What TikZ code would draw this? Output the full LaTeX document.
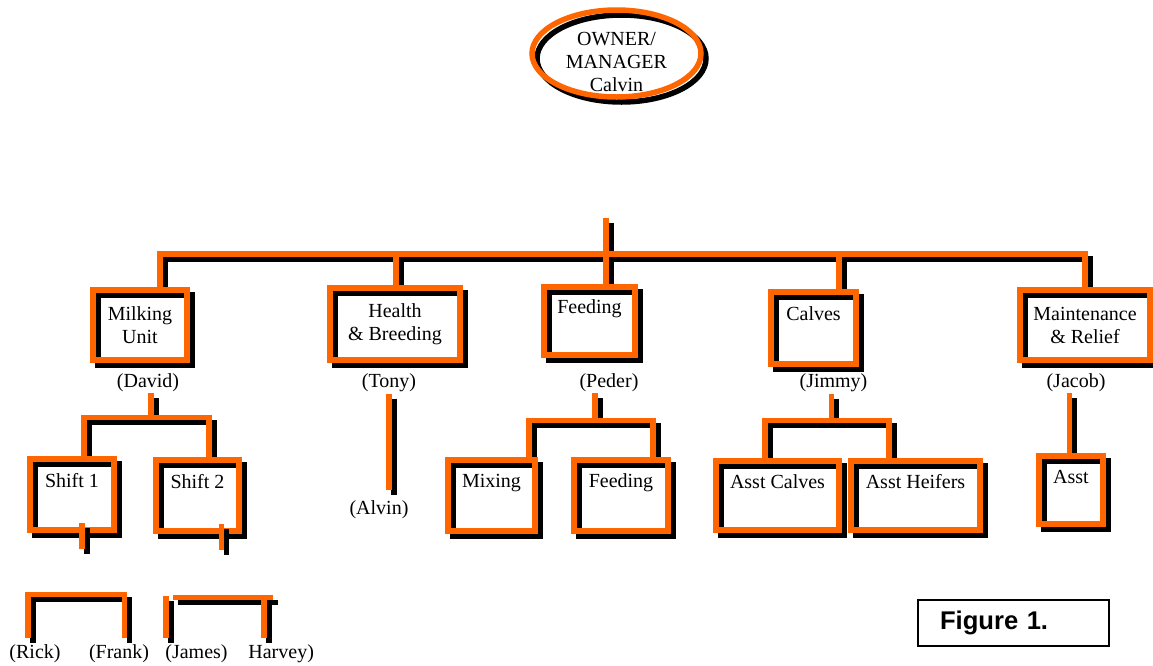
\documentclass[tikz,border=0pt]{standalone}
\usepackage{fontspec}
\setmainfont{Liberation Serif}
\newfontfamily\figfont{Liberation Sans}
\usetikzlibrary{shapes.geometric,backgrounds}
\definecolor{rim}{HTML}{FF6600}

\begin{document}
\begin{tikzpicture}[x=0.5pt, y=-0.5pt, font=\fontsize{10}{11.5}\selectfont,
    backdrop/.style = {preaction={draw=black, line width=2.75pt, transform canvas={shift={(2.5pt,-2.5pt)}}}},
    dept/.style = {draw=rim, line width=2.75pt, inner sep=0pt, backdrop},
    unit/.style = {dept, text height=13.5pt, text depth=#1},
    link/.style = {draw=rim, line width=2.75pt, backdrop},
    who/.style = {inner sep=.5pt},
    crew/.style = {inner sep=3.5pt}]
    \useasboundingbox (0,0) rectangle (1153,665);

    \node[dept, ellipse, minimum width=84.5pt, minimum height=43.5pt] (owner) at (616.5,53.5)
        {\raisebox{-7.75pt}[0pt][0pt]{\begin{tabular}{@{}c@{}}OWNER/\\MANAGER\\Calvin\end{tabular}}};

    \node[dept, align=center, minimum width=47pt, minimum height=35pt] (milk) at (140,325) {Milking\\Unit};
    \node[dept, align=center, minimum width=65pt, minimum height=36pt] (health) at (395,324) {Health\\\& Breeding};
    \node[unit=21pt, text height=13pt, minimum width=45.5pt] (feed) at (589.5,321) {Feeding};
    \node[unit=22pt, text height=14pt, minimum width=42.5pt] (calves) at (813.5,328) {Calves};
    \node[dept, align=center, minimum width=65pt, minimum height=35pt] (maint) at (1085,325) {Maintenance\\\& Relief};

    \node[unit=21.5pt, text height=14pt, minimum width=42pt] (shift1) at (72,494.5) {Shift 1};
    \node[unit=21.5pt, text height=14pt, minimum width=41.5pt] (shift2) at (197.5,495.5) {Shift 2};
    \node[unit=22pt, minimum width=43.5pt] (mix) at (491.5,495.5) {Mixing};
    \node[unit=22pt, minimum width=47pt] (feed2) at (621,495.5) {Feeding};
    \node[unit=21pt, minimum width=61.5pt] (acalves) at (777.5,495.5) {Asst Calves};
    \node[unit=21pt, minimum width=64.5pt] (aheif) at (915.5,495.5) {Asst Heifers};
    \node[unit=20.5pt, minimum width=32pt] (asst) at (1071,490) {Asst};

    \node[who] (david) at (148,383) {(David)};
    \node[who] (tony) at (389,383) {(Tony)};
    \node[who] (peder) at (609,383) {(Peder)};
    \node[who] (jimmy) at (833.5,383) {(Jimmy)};
    \node[who] (jacob) at (1076,383) {(Jacob)};
    \node[who] (alvin) at (379,510) {(Alvin)};
    \node[crew] (rick) at (35,654) {(Rick)};
    \node[crew] (frank) at (119,654) {(Frank)};
    \node[crew] (james) at (196.5,654) {(James)};
    \node[crew, anchor=west] (harvey) at (241,654) {Harvey)};

    \begin{scope}[on background layer]
    \coordinate (apex) at (606,218);
    \coordinate (bus) at (606,254);
    \draw[link] (apex) -- (apex |- feed.north)
        ([xshift=10pt]milk.north) |- (bus) -| (maint.north)
        ([xshift=.5pt]health.north) -- ([xshift=.5pt]health.north |- bus)
        ([xshift=12.75pt]calves.north) -- ([xshift=12.75pt]calves.north |- bus);
    \draw[link] ([xshift=1.5pt]david.south) -- ++(0,24) coordinate (dj)
        (dj) -| ([xshift=6pt]shift1.north)
        (dj) -| ([xshift=5.75pt]shift2.north);
    \draw[link] (tony.south) -- ([yshift=5pt]tony.south |- alvin.north);
    \draw[link] ([xshift=-7pt]peder.south) -- ++(0,27) coordinate (pj)
        (pj) -| ([xshift=18.75pt]mix.north)
        (pj) -| ([xshift=16pt]feed2.north);
    \draw[link] ([xshift=-1pt]jimmy.south) -- ++(0,27) coordinate (jj)
        (jj) -| ([xshift=-6.25pt]acalves.north)
        (jj) -| ([xshift=-13.25pt]aheif.north);
    \draw[link] ([xshift=-3.25pt]jacob.south) -- ([xshift=-3.25pt]jacob.south |- asst.north);
    \draw[link] ([xshift=-3.5pt]rick.north) -- ++(0,-43) -| ([xshift=2.75pt]frank.north);
    \draw[link] ([xshift=-15.25pt]james.north) -- ++(0,-42)
        ([xshift=11.5pt]harvey.north west) -- ++(0,-42) ++(-91,2) -- ++(100,0);
    \end{scope}

    \draw[link] ([xshift=5pt,yshift=5pt]shift1.south) -- ++(0,26);
    \draw[link] ([xshift=12pt,yshift=5pt]shift2.south) -- ++(0,26);

    \node[draw, line width=1pt, minimum height=23pt, text width=73.5pt, inner xsep=11pt,
        font=\figfont\bfseries\fontsize{12.8}{15}\selectfont] (fig) at (1013.5,623) {Figure 1.};
\end{tikzpicture}
\end{document}
